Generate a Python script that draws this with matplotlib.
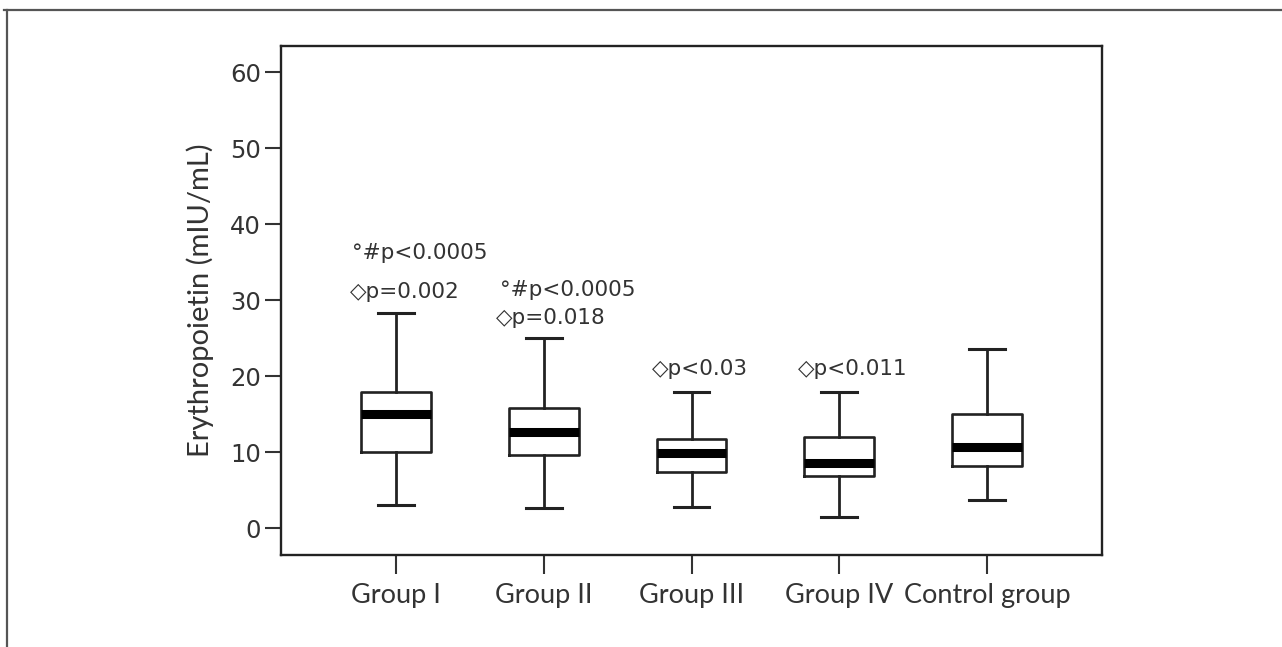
import matplotlib
matplotlib.use("Agg")
import matplotlib.pyplot as plt
from matplotlib.lines import Line2D

# ---- data ----
categories = ["Group I", "Group II", "Group III", "Group IV", "Control group"]
whisker_low = [3.1, 2.7, 2.85, 1.5, 3.7]
q1 = [10.0, 9.6, 7.45, 6.9, 8.2]
median = [15.0, 12.7, 9.9, 8.55, 10.65]
q3 = [17.9, 15.9, 11.75, 12.0, 15.1]
whisker_high = [28.3, 25.0, 18.0, 18.0, 23.6]

yticks = [0, 10, 20, 30, 40, 50, 60]

# annotations: (x in category units, baseline y, text)
annot_text = ["°#p<0.0005", "\u25c7p=0.002", "°#p<0.0005", "\u25c7p=0.018",
              "\u25c7p<0.03", "\u25c7p<0.011"]
annot_x = [0.70, 0.688, 1.705, 1.673, 2.735, 3.723]
annot_y = [35.4, 30.26, 30.57, 26.9, 20.17, 20.17]

# ---- figure ----
fig = plt.figure(figsize=(12.82, 6.47), dpi=100)
ax = fig.add_axes([0.2192, 0.1422, 0.6404, 0.7867])

positions = list(range(1, len(categories) + 1))
stats = []
for i in range(len(categories)):
    stats.append(dict(whislo=whisker_low[i], q1=q1[i], med=median[i],
                      q3=q3[i], whishi=whisker_high[i], fliers=[]))

dark = "#222222"
ax.bxp(stats, positions=positions, widths=0.47, capwidths=0.24,
       showfliers=False, patch_artist=False,
       boxprops=dict(color=dark, linewidth=1.9),
       whiskerprops=dict(color=dark, linewidth=2.0),
       capprops=dict(color=dark, linewidth=2.2),
       medianprops=dict(color="black", linewidth=6.5, solid_capstyle="butt"))

ax.set_xlim(0.22, 5.78)
ax.set_ylim(-3.5, 63.46)
ax.set_yticks(yticks)
ax.set_xticks(positions)
ax.set_xticklabels(categories, fontfamily="Lato", fontsize=19.5)
for lab in ax.get_yticklabels():
    lab.set_fontfamily("DejaVu Sans")
    lab.set_fontsize(17.5)
    lab.set_color("#333333")
for lab in ax.get_xticklabels():
    lab.set_color("#333333")

ax.tick_params(axis="y", length=11.5, width=1.5, pad=3, color="#333333")
ax.tick_params(axis="x", length=13.5, width=1.5, pad=7, color="#333333")
for sp in ax.spines.values():
    sp.set_linewidth(1.7)
    sp.set_color("#222222")

ax.set_ylabel("Erythropoietin (mIU/mL)", fontfamily="Lato", fontsize=21,
              color="#333333")
ax.yaxis.set_label_coords(-0.0987, 0.5)
ax.yaxis.label.set_va("center")

for t, x, y in zip(annot_text, annot_x, annot_y):
    ax.text(x, y, t, ha="left", va="baseline", fontsize=15.5,
            family=["DejaVu Sans"], color="#333333")

# outer frame (top and left edges)
fig.add_artist(Line2D([0.003, 1.0], [1 - 10 / 647, 1 - 10 / 647],
                      transform=fig.transFigure, color="#555555", linewidth=1.6))
fig.add_artist(Line2D([6.5 / 1282, 6.5 / 1282], [0.0, 1 - 10 / 647],
                      transform=fig.transFigure, color="#555555", linewidth=1.6))

fig.savefig("out.png", dpi=100, facecolor="white")
